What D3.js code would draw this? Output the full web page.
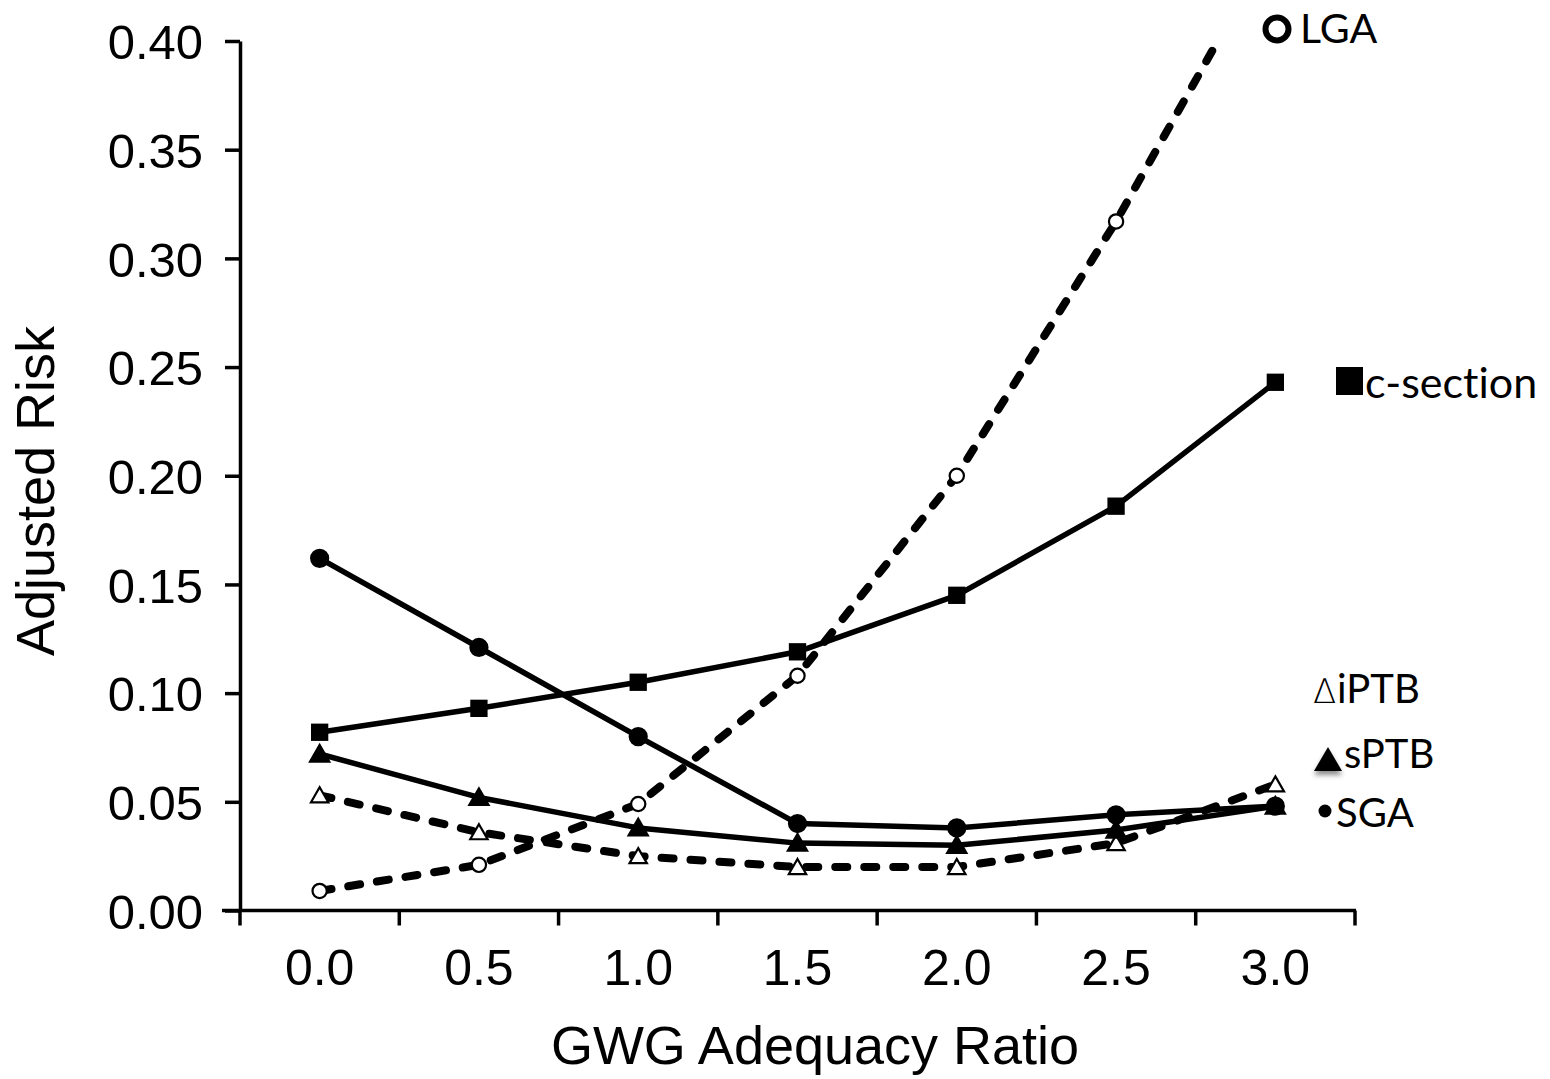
<!DOCTYPE html>
<html>
<head>
<meta charset="utf-8">
<script src="https://cdn.jsdelivr.net/npm/d3@7"></script>
<style>
  body { margin: 0; background: #fff; }
  svg { display: block; }
  text { font-variant-ligatures: none; }
</style>
</head>
<body>
<svg id="chart" width="1550" height="1079"></svg>
<script>
// data
const ratios = ["0.0", "0.5", "1.0", "1.5", "2.0", "2.5", "3.0"];
const sga      = [0.162, 0.121, 0.080, 0.040, 0.038, 0.044, 0.048];
const csection = [0.082, 0.093, 0.105, 0.119, 0.145, 0.186, 0.243];
const sptb     = [0.072, 0.052, 0.038, 0.031, 0.030, 0.037, 0.048];
const iptb     = [0.053, 0.036, 0.025, 0.020, 0.020, 0.031, 0.058];
const lga      = [0.009, 0.021, 0.049, 0.108, 0.200, 0.317, 0.447];
const yTicks = [0, 0.05, 0.10, 0.15, 0.20, 0.25, 0.30, 0.35, 0.40];

const svg = d3.select("#chart");
const axisFont = "'Liberation Sans', Arial, sans-serif";
const legendFont = "Lato, 'Open Sans', sans-serif";

const x = d3.scaleBand().domain(ratios).range([240, 1355]);
const y = d3.scaleLinear().domain([0, 0.40]).range([910.5, 41]);
const cx = d => x(d) + x.bandwidth() / 2;

const defs = svg.append("defs");
defs.append("clipPath").attr("id", "plotClip")
  .append("rect").attr("x", 240).attr("y", 45).attr("width", 1200).attr("height", 900);

const shadow = defs.append("filter").attr("id", "shadow")
  .attr("x", "-50%").attr("y", "-50%").attr("width", "200%").attr("height", "220%");
shadow.append("feDropShadow").attr("dx", 0).attr("dy", 4).attr("stdDeviation", 2.5)
  .attr("flood-color", "#000").attr("flood-opacity", 0.45);

// y axis
const yAxis = svg.append("g").attr("transform", "translate(240,0)")
  .call(d3.axisLeft(y).tickValues(yTicks).tickFormat(d3.format(".2f")).tickSize(15).tickSizeOuter(0));
yAxis.select(".domain").attr("stroke-width", 3.5);
yAxis.selectAll(".tick line").attr("stroke-width", 3.5);
yAxis.selectAll(".tick text")
  .attr("font-family", axisFont).attr("font-size", 49).attr("fill", "#000")
  .attr("x", -37).attr("dy", "0.36em");

// x axis: ticks on band edges, labels at band centres
const xg = svg.append("g");
xg.append("line").attr("x1", 222).attr("x2", 1356).attr("y1", y(0)).attr("y2", y(0))
  .attr("stroke", "#000").attr("stroke-width", 3.5);
const edges = ratios.map(d => x(d)).concat([x.range()[1]]);
xg.selectAll("line.tick").data(edges).enter().append("line").attr("class", "tick")
  .attr("x1", d => d).attr("x2", d => d).attr("y1", y(0)).attr("y2", y(0) + 15)
  .attr("stroke", "#000").attr("stroke-width", 3.5);
xg.selectAll("text").data(ratios).enter().append("text")
  .attr("x", d => cx(d)).attr("y", 985)
  .attr("text-anchor", "middle")
  .attr("font-family", axisFont).attr("font-size", 50)
  .text(d => d);

// axis titles
svg.append("text").attr("x", 815).attr("y", 1064).attr("text-anchor", "middle")
  .attr("font-family", axisFont).attr("font-size", 54).text("GWG Adequacy Ratio");
svg.append("text").attr("transform", "translate(54,491) rotate(-90)").attr("text-anchor", "middle")
  .attr("font-family", axisFont).attr("font-size", 54).text("Adjusted Risk");

// series
const series = [
  {name: "LGA", values: lga, dashed: true, marker: "openCircle"},
  {name: "iPTB", values: iptb, dashed: true, marker: "openTriangle"},
  {name: "sPTB", values: sptb, dashed: false, marker: "triangle"},
  {name: "c-section", values: csection, dashed: false, marker: "square"},
  {name: "SGA", values: sga, dashed: false, marker: "circle"}
];

const line = d3.line().x((v, i) => cx(ratios[i])).y(v => y(v));
const plot = svg.append("g").attr("clip-path", "url(#plotClip)");

series.forEach(s => {
  plot.append("path")
    .attr("d", line(s.values))
    .attr("fill", "none")
    .attr("stroke", "#000")
    .attr("stroke-width", s.dashed ? 8 : 5.5)
    .attr("stroke-linecap", s.dashed ? "round" : "butt")
    .attr("stroke-linejoin", "round")
    .attr("stroke-dasharray", s.dashed ? "12,17" : null);
});

const symbols = {
  circle: {type: d3.symbolCircle, size: 290, fill: "#000", sw: 0},
  square: {type: d3.symbolSquare, size: 300, fill: "#000", sw: 0},
  triangle: {type: d3.symbolTriangle, size: 230, fill: "#000", sw: 0},
  openTriangle: {type: d3.symbolTriangle, size: 130, fill: "#fff", sw: 2.2},
  openCircle: {type: d3.symbolCircle, size: 160, fill: "#fff", sw: 2.2}
};

series.forEach(s => {
  const m = symbols[s.marker];
  plot.selectAll(null).data(s.values.map((v, i) => [ratios[i], v])).enter()
    .filter(d => d[1] <= 0.40)
    .append("path")
    .attr("d", d3.symbol().type(m.type).size(m.size))
    .attr("transform", d => `translate(${cx(d[0])},${y(d[1]) + (m.type === d3.symbolTriangle ? 2 : 0)})`)
    .attr("fill", m.fill)
    .attr("stroke", "#000")
    .attr("stroke-width", m.sw);
});

// legend labels at the right
const leg = svg.append("g").attr("font-family", legendFont).attr("fill", "#000");

leg.append("circle").attr("cx", 1277).attr("cy", 29).attr("r", 11.5)
  .attr("fill", "none").attr("stroke", "#000").attr("stroke-width", 6);
leg.append("text").attr("x", 1300).attr("y", 43).attr("font-size", 41).text("LGA");

leg.append("rect").attr("x", 1336).attr("y", 367).attr("width", 27).attr("height", 28).attr("fill", "#000");
leg.append("text").attr("x", 1365).attr("y", 398).attr("font-size", 43).text("c-section");

leg.append("text").attr("x", 1313).attr("y", 703).attr("font-size", 34)
  .attr("font-family", "'DejaVu Sans', sans-serif").attr("font-weight", 300).text("∆");
leg.append("text").attr("x", 1337).attr("y", 703).attr("font-size", 40).text("iPTB");

leg.append("path").attr("d", "M1314,771 L1328,747 L1342,771 Z").attr("fill", "#000")
  .attr("filter", "url(#shadow)");
leg.append("text").attr("x", 1344).attr("y", 768).attr("font-size", 40).text("sPTB");

leg.append("circle").attr("cx", 1325).attr("cy", 811).attr("r", 6.5).attr("fill", "#000");
leg.append("text").attr("x", 1336).attr("y", 827).attr("font-size", 40).text("SGA");
</script>
</body>
</html>
